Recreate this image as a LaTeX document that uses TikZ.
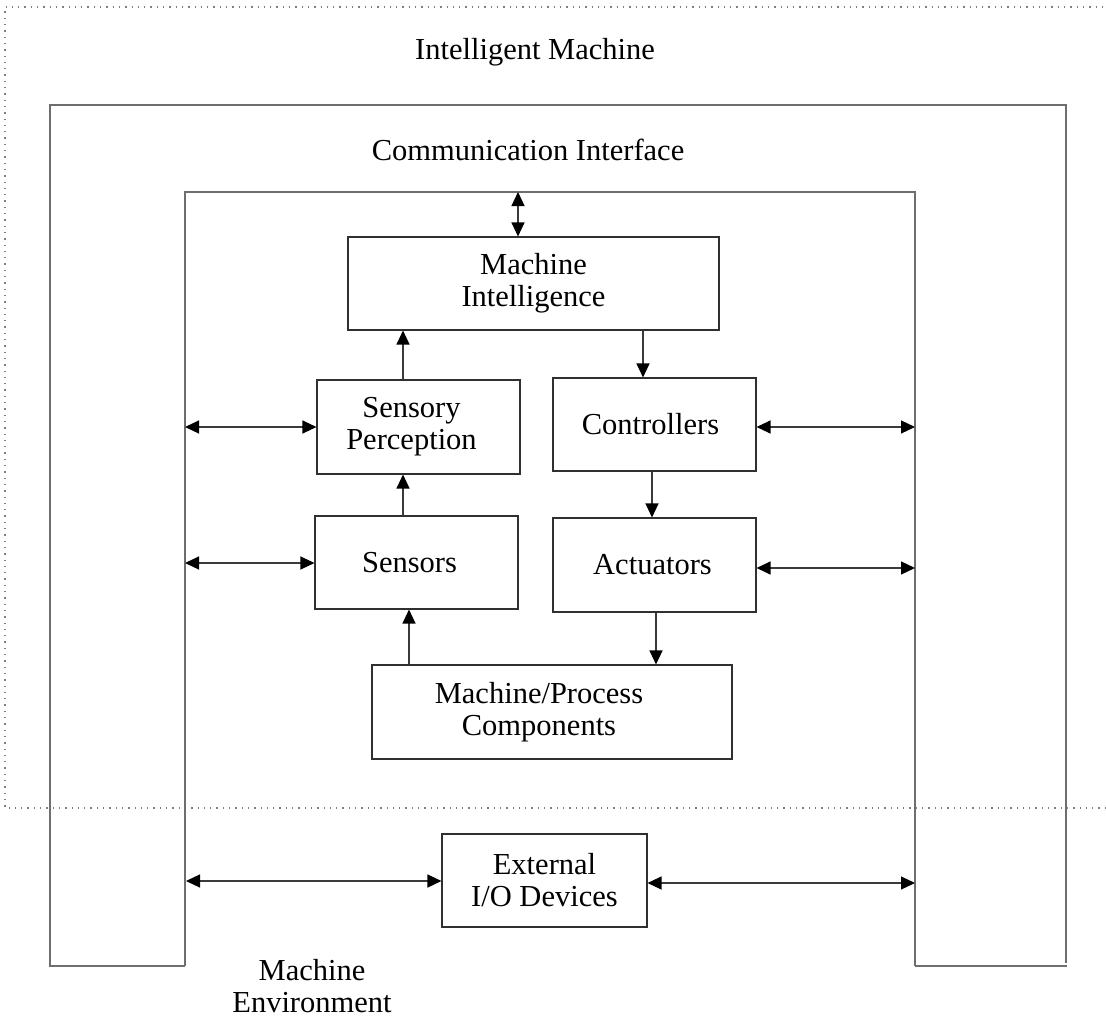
\documentclass[tikz,border=0pt]{standalone}
\usepackage{fontspec}
\setmainfont{Liberation Serif}
\usetikzlibrary{arrows.meta}
\definecolor{framecol}{HTML}{6E6E6E}
\definecolor{boxcol}{HTML}{303030}
\definecolor{arrcol}{HTML}{3A3A3A}
\newcommand{\txshiftpad}[1]{\hspace*{#1}}
\begin{document}
\begin{tikzpicture}[x=1pt,y=-1pt,
  every node/.style={font=\fontsize{30.5}{32}\selectfont, align=center, inner sep=0pt},
  blk/.style={draw=boxcol, line width=1.1pt, rectangle},
  frm/.style={draw=framecol, line width=1.6pt},
  dotb/.style={draw=gray, line width=1.3pt, dash pattern=on 1.3pt off 5pt},
  arr/.style={draw=arrcol, line width=1.2pt, -{Triangle[length=14pt,width=13pt,color=black]}},
  darr/.style={draw=arrcol, line width=1.2pt, {Triangle[length=14pt,width=13pt,color=black]}-{Triangle[length=14pt,width=13pt,color=black]}}]
\useasboundingbox (0,0) rectangle (1106,1017);
% dotted region
\draw[dotb] (1106,808) -- (5,808) -- (5,7) -- (1106,7);
% frames
\draw[frm] (185,966) -- (50,966) -- (50,105) -- (1066,105) -- (1066,963);
\draw[frm] (915,966) -- (1067,966);
\draw[frm] (185,966) -- (185,192) -- (915,192) -- (915,966);
% labels
\node (lim) at (535,52) {Intelligent Machine};
\node (lci) at (528,150) {Communication Interface};
\node (lme) at (312,986) {Machine\\Environment};
% boxes
\node[blk, minimum width=371pt, minimum height=93pt] (mi) at (533.5,283.5) {Machine\\Intelligence};
\node[blk, minimum width=203pt, minimum height=94pt] (sp) at (418.5,427) {Sensory\txshiftpad{14pt}\\Perception\txshiftpad{14pt}};
\node[blk, minimum width=203pt, minimum height=93pt] (ct) at (654.5,424.5) {Controllers\txshiftpad{8pt}};
\node[blk, minimum width=203pt, minimum height=93pt] (se) at (416.5,562.5) {Sensors\txshiftpad{14pt}};
\node[blk, minimum width=203pt, minimum height=94pt] (ac) at (654.5,565) {Actuators\txshiftpad{4pt}};
\node[blk, minimum width=360pt, minimum height=94pt] (mp) at (552,712) {Machine/Process\txshiftpad{26pt}\\Components\txshiftpad{26pt}};
\node[blk, minimum width=205pt, minimum height=93pt] (io) at (544.5,880.5) {External\\I/O Devices};
% frame coordinates
\coordinate (ctop) at (518,192);
\coordinate (lsp) at (185,427);
\coordinate (lse) at (185,563);
\coordinate (rct) at (915,427);
\coordinate (rac) at (915,568);
\coordinate (lio) at (186,881);
\coordinate (rio) at (915,883);
% connectors
\draw[darr] (ctop) -- (ctop |- mi.north);
\draw[arr] (403,0 |- sp.north) -- (403,0 |- mi.south);
\draw[arr] (643,0 |- mi.south) -- (643,0 |- ct.north);
\draw[arr] (403,0 |- se.north) -- (403,0 |- sp.south);
\draw[arr] (652,0 |- ct.south) -- (652,0 |- ac.north);
\draw[arr] (409,0 |- mp.north) -- (409,0 |- se.south);
\draw[arr] (656,0 |- ac.south) -- (656,0 |- mp.north);
\draw[darr] (lsp) -- (lsp -| sp.west);
\draw[darr] (lse) -- (lse -| se.west);
\draw[darr] (rct -| ct.east) -- (rct);
\draw[darr] (rac -| ac.east) -- (rac);
\draw[darr] (lio) -- (lio -| io.west);
\draw[darr] (rio -| io.east) -- (rio);
\end{tikzpicture}
\end{document}
